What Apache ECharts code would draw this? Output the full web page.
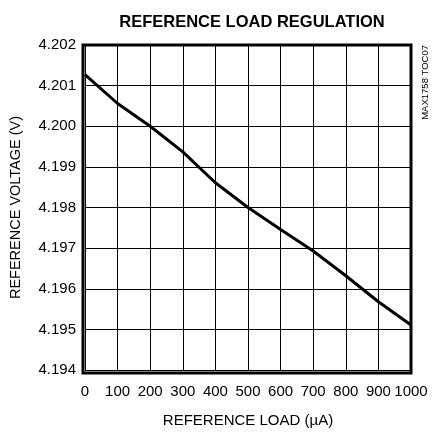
<!DOCTYPE html>
<html>
<head>
<meta charset="utf-8">
<script src="https://cdn.jsdelivr.net/npm/echarts@6/dist/echarts.min.js"></script>
<style>
  html, body { margin: 0; padding: 0; background: #fff; }
  #chart { width: 440px; height: 433px; }
</style>
</head>
<body>
<div id="chart"></div>
<script>
// load in uA, reference voltage in V
const loadUA = [0, 100, 200, 300, 400, 500, 600, 700, 800, 900, 1000];
const refVolt = [4.20127, 4.20056, 4.2000, 4.19937, 4.19861, 4.19800, 4.19746, 4.19693, 4.19632, 4.19568, 4.19511];

const font = "'Liberation Sans Narrow', 'Liberation Sans', Arial, sans-serif";

const chart = echarts.init(document.getElementById("chart"));
chart.setOption({
    animation: false,
    title: {
        text: "REFERENCE LOAD REGULATION",
        left: 247,
        textAlign: "center",
        top: 9,
        textStyle: { fontFamily: font, fontWeight: "bold", fontSize: 16.5, color: "#000" },
    },
    grid: { left: 83, top: 45, width: 328, height: 328 },
    xAxis: {
        type: "value",
        min: 0,
        max: 1000,
        interval: 100,
        name: "REFERENCE LOAD (\u00b5A)",
        nameLocation: "middle",
        nameGap: 43,
        nameTextStyle: { fontFamily: font, fontSize: 15, color: "#000" },
        axisLine: { show: false },
        axisTick: { show: false },
        axisLabel: {
            fontFamily: font, fontSize: 15, color: "#000", margin: 14,
            formatter: v => String(v),
        },
        splitLine: { lineStyle: { color: "#000", width: 1 } },
    },
    yAxis: {
        type: "value",
        min: 4.194,
        max: 4.202,
        interval: 0.001,
        name: "REFERENCE VOLTAGE (V)",
        nameLocation: "middle",
        nameGap: 62,
        nameTextStyle: { fontFamily: font, fontSize: 14.5, color: "#000" },
        axisLine: { show: false },
        axisTick: { show: false },
        axisLabel: {
            fontFamily: font, fontSize: 15, color: "#000", margin: 9,
            formatter: v => v.toFixed(3),
        },
        splitLine: { lineStyle: { color: "#000", width: 1 } },
    },
    series: [
        {
            type: "line",
            data: loadUA.map((x, i) => [x, refVolt[i]]),
            showSymbol: false,
            lineStyle: { color: "#000", width: 3 },
        },
    ],
    graphic: [
        {
            type: "rect",
            shape: { x: 83, y: 45, width: 328, height: 328 },
            style: { fill: "none", stroke: "#000", lineWidth: 3 },
            z: 100,
        },
        {
            type: "text",
            x: 425,
            y: 45,
            rotation: Math.PI / 2,
            style: {
                text: "MAX1758 TOC07",
                fontFamily: font,
                fontSize: 9.5,
                fill: "#000",
                textAlign: "right",
                textVerticalAlign: "middle",
            },
        },
    ],
});
</script>
</body>
</html>
